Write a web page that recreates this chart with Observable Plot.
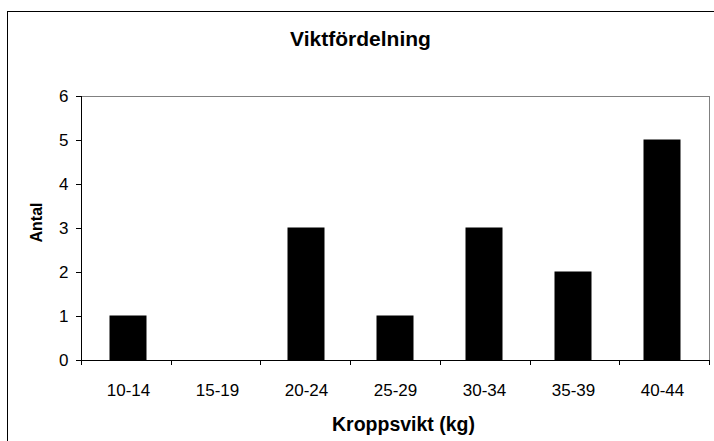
<!DOCTYPE html>
<html>
<head>
<meta charset="utf-8">
<script src="https://cdn.jsdelivr.net/npm/d3@7"></script>
<script src="https://cdn.jsdelivr.net/npm/@observablehq/plot@0.6"></script>
<style>
  html, body { margin: 0; padding: 0; background: white; }
  #wrap { position: relative; width: 714px; height: 441px; overflow: hidden; }
  #border { position: absolute; left: 7px; top: 11px; width: 800px; height: 600px;
            border-left: 1px solid #000; border-top: 1px solid #000; pointer-events: none; }
  svg { display: block; }
</style>
</head>
<body>
<div id="wrap"><div id="border"></div></div>
<script>
const categories = ["10-14", "15-19", "20-24", "25-29", "30-34", "35-39", "40-44"];
const counts = [1, 0, 3, 1, 3, 2, 5];
const yTicks = [0, 1, 2, 3, 4, 5, 6];
const title = "Viktfördelning";
const xTitle = "Kroppsvikt (kg)";
const yTitle = "Antal";

const data = categories.map((c, i) => ({cat: c, n: counts[i]}));

const W = 714, H = 441, mL = 81, mR = 5, mT = 96, mB = 81;
const font = "'Liberation Sans', Arial, Helvetica, sans-serif";

// boundary ticks between categories (Excel style)
function boundaryTicks(index, scales, values, dimensions) {
  const {width, marginLeft, marginRight} = dimensions;
  const n = categories.length;
  const step = (width - marginLeft - marginRight) / n;
  const y0 = scales.y(0);
  const g = d3.create("svg:g").attr("stroke", "#000").attr("stroke-width", 1);
  for (let i = 0; i <= n; i++) {
    const x = Math.round(marginLeft + i * step) + 0.5;
    g.append("line").attr("x1", x).attr("x2", x).attr("y1", y0).attr("y2", y0 + 5);
  }
  return g.node();
}

const chart = Plot.plot({
  width: W, height: H,
  marginLeft: mL, marginRight: mR, marginTop: mT, marginBottom: mB,
  style: {fontFamily: font, fontSize: "17px", color: "#000", background: "white"},
  x: {domain: categories, paddingInner: 0.59, paddingOuter: 0.295, label: null},
  y: {domain: [0, 6], label: null},
  marks: [
    Plot.frame({stroke: "#808080"}),
    Plot.barY(data, {x: "cat", y: "n", fill: "#000", stroke: "#000", strokeWidth: 1}),
    Plot.ruleY([0], {stroke: "#000"}),
    Plot.axisY({ticks: yTicks, tickSize: 5, tickPadding: 8, fontSize: 17, tickFormat: d3.format("d")}),
    Plot.axisX({tickSize: 0, tickPadding: 23, fontSize: 17}),
    boundaryTicks,
    Plot.text([title], {frameAnchor: "top", dx: -35, dy: -57, fontSize: 21, fontWeight: "bold", lineAnchor: "middle"}),
    Plot.text([xTitle], {frameAnchor: "bottom", dx: 8, dy: 64, fontSize: 19.5, fontWeight: "bold", lineAnchor: "middle"}),
    Plot.text([yTitle], {frameAnchor: "left", textAnchor: "middle", dx: -45, dy: -6, fontSize: 16, fontWeight: "bold", rotate: -90, lineAnchor: "middle"})
  ]
});

// solid black left axis line
d3.select(chart).append("line")
  .attr("x1", mL + 0.5).attr("x2", mL + 0.5)
  .attr("y1", mT).attr("y2", H - mB + 5)
  .attr("stroke", "#000");

document.getElementById("wrap").prepend(chart);
</script>
</body>
</html>
